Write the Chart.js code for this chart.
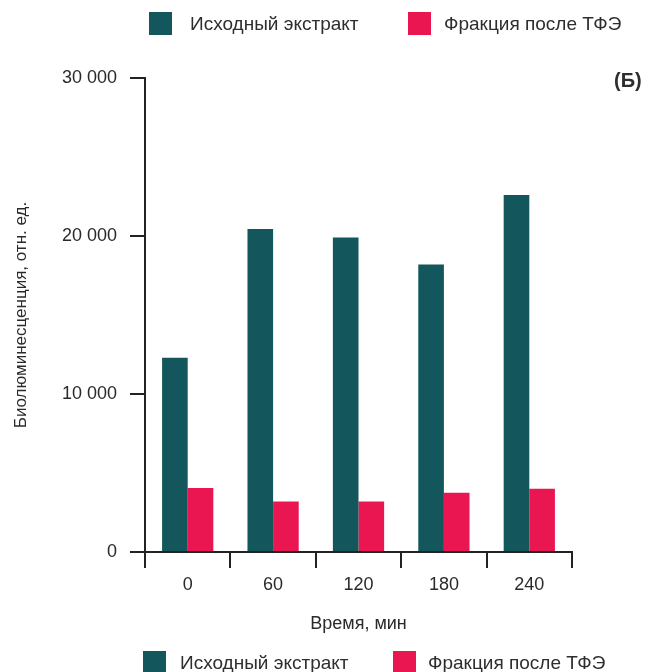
<!DOCTYPE html>
<html>
<head>
<meta charset="utf-8">
<script src="https://cdn.jsdelivr.net/npm/chart.js@4"></script>
<style>
  body { margin: 0; background: #fff; }
  #wrap { position: relative; width: 646px; height: 672px; overflow: hidden; font-family: "Liberation Sans", Arial, sans-serif; color: #2e2e2e; }
  #wrap canvas { position: absolute; left: 0; top: 0; }
  .leg { position: absolute; display: flex; align-items: center; font-size: 19px; white-space: nowrap; }
  .leg span.box { display: inline-block; width: 23px; height: 23px; }
  #panel { position: absolute; left: 614px; top: 69px; font-size: 20px; font-weight: bold; }
</style>
</head>
<body>
<div id="wrap">
  <canvas id="myChart" width="646" height="672"></canvas>
  <div id="panel">(Б)</div>
</div>
<script>
const labels = ['0', '60', '120', '180', '240'];
const seriesNames = ['Исходный экстракт', 'Фракция после ТФЭ'];
const extractValues = [12300, 20450, 19900, 18200, 22600];
const speValues = [4050, 3200, 3200, 3750, 4000];
const yTicks = [0, 10000, 20000, 30000];
const colors = ['#13565b', '#ea1651'];

const textColor = '#2a2a2a';
const axisColor = '#222';

// legends (top one and the repeated one at the bottom)
function addLegend(top, lefts) {
  const wrap = document.getElementById('wrap');
  seriesNames.forEach((name, i) => {
    const d = document.createElement('div');
    d.className = 'leg';
    d.style.left = lefts[i][0] + 'px';
    d.style.top = top + 'px';
    d.innerHTML = '<span class="box" style="background:' + colors[i] + '"></span>' +
      '<span style="margin-left:' + (lefts[i][1] - lefts[i][0] - 23) + 'px">' + name + '</span>';
    wrap.appendChild(d);
  });
}
addLegend(12, [[149, 190], [408, 444]]);
addLegend(651, [[143, 180], [393, 428]]);

const ctx = document.querySelector('#myChart').getContext('2d');

const data = {
  labels,
  datasets: [{
    label: seriesNames[0],
    data: extractValues,
    backgroundColor: colors[0],
  }, {
    label: seriesNames[1],
    data: speValues,
    backgroundColor: colors[1],
  }]
};

const config = {
  type: 'bar',
  data: data,
  options: {
    responsive: false,
    animation: false,
    categoryPercentage: 0.6,
    barPercentage: 1.0,
    layout: {
      padding: { left: 0, top: 78, right: 74, bottom: 0 }
    },
    plugins: {
      legend: { display: false },
      tooltip: { enabled: false }
    },
    scales: {
      x: {
        afterFit: (scale) => { scale.height = 120; },
        grid: {
          offset: true,
          drawOnChartArea: false,
          drawTicks: true,
          tickLength: 16,
          color: axisColor,
          lineWidth: 2
        },
        border: { display: true, color: axisColor, width: 2 },
        ticks: {
          color: textColor,
          padding: 6,
          font: { family: 'Liberation Sans', size: 18 }
        },
        title: {
          display: true,
          text: 'Время, мин',
          color: textColor,
          padding: { top: 0, bottom: 37 },
          font: { family: 'Liberation Sans', size: 18 }
        }
      },
      y: {
        min: 0,
        max: 30000,
        afterFit: (scale) => { scale.width = 145; },
        afterBuildTicks: (scale) => {
          scale.ticks = yTicks.map(v => ({ value: v }));
        },
        grid: {
          drawOnChartArea: false,
          drawTicks: true,
          tickLength: 15,
          color: axisColor,
          lineWidth: 2
        },
        border: { display: true, color: axisColor, width: 2 },
        ticks: {
          color: textColor,
          padding: 13,
          font: { family: 'Liberation Sans', size: 18 },
          callback: function (value) {
            return String(value).replace(/\B(?=(\d{3})+(?!\d))/g, ' ');
          }
        },
        title: {
          display: true,
          text: 'Биолюминесценция, отн. ед.',
          color: textColor,
          padding: { top: 11, bottom: 0 },
          font: { family: 'Liberation Sans', size: 17 }
        }
      }
    }
  }
};

const myChart = new Chart(ctx, config);
</script>
</body>
</html>
